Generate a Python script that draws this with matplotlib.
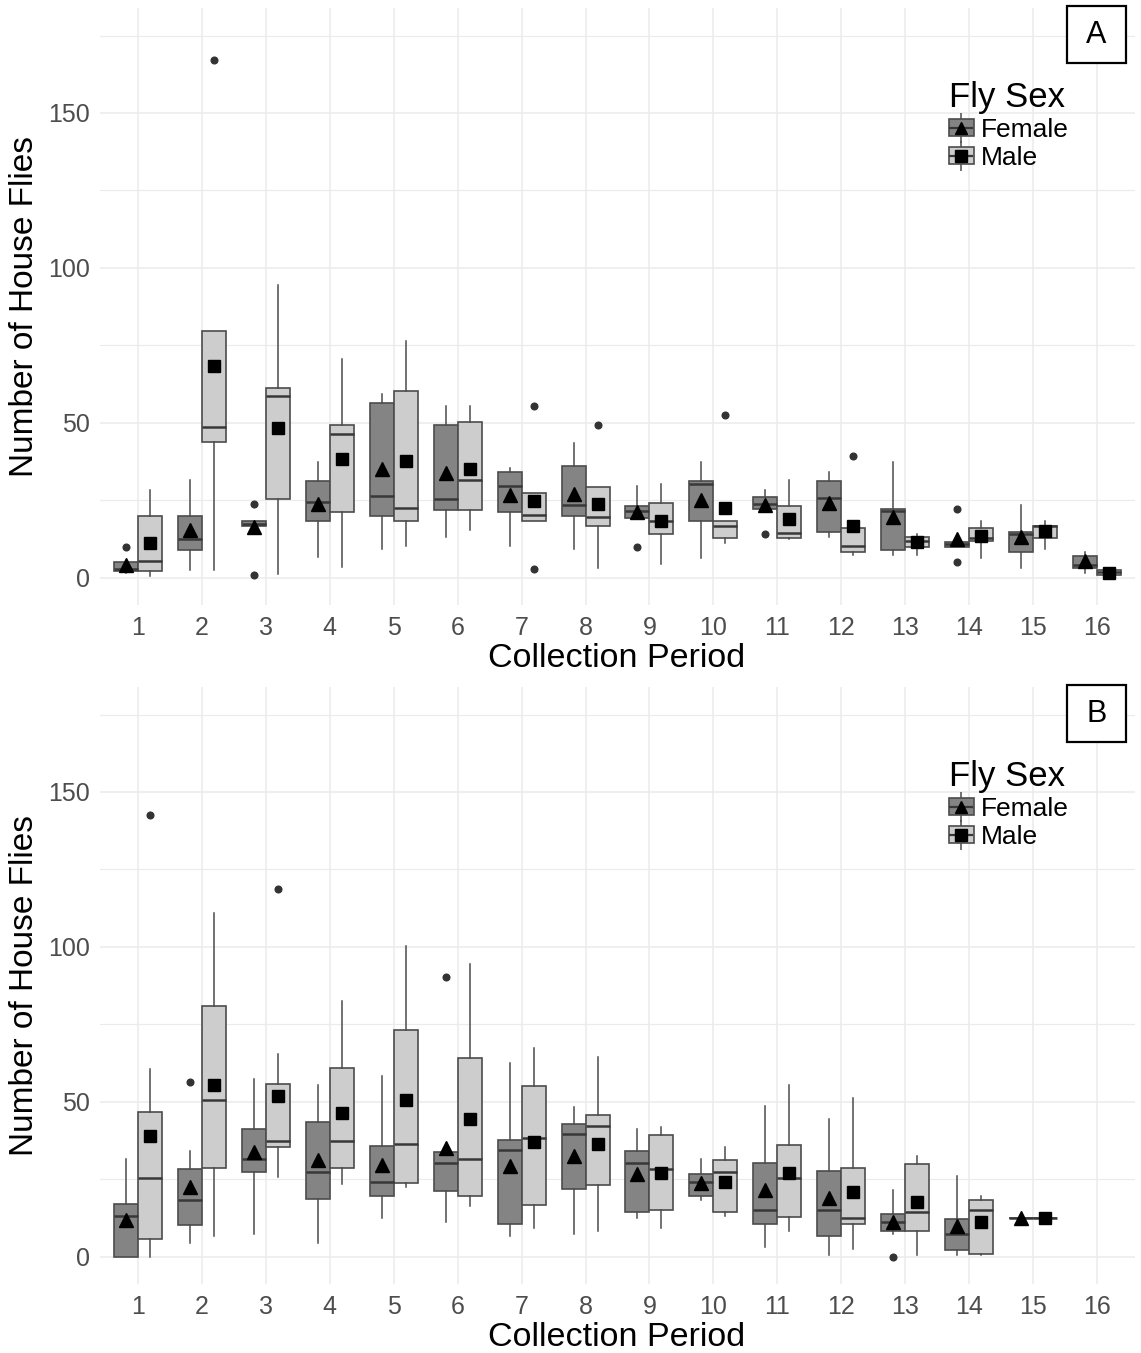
import matplotlib
matplotlib.use('Agg')
import matplotlib.pyplot as plt
import matplotlib.patches as mpatches
from matplotlib.lines import Line2D
import numpy as np

plt.rcParams['font.family'] = ['Liberation Sans', 'DejaVu Sans']

periods = list(range(1, 17))

# ---- Panel A (whislo, q1, med, q3, whishi, mean) ----
a_fem_lo   = [1.5, 2.6, 16.8, 6.6, 9.3, 13.3, 10.4, 9.3, 19.2, 6.3, 22.2, 13.3, 7.4, 10.1, 3.1, 1.5]
a_fem_q1   = [2.3, 9.0, 16.8, 18.2, 20.1, 22.0, 21.4, 20.1, 19.2, 18.2, 22.2, 14.9, 9.0, 10.1, 8.2, 3.1]
a_fem_med  = [3.0, 12.5, 17.5, 24.4, 26.5, 25.5, 29.6, 23.5, 21.7, 30.3, 23.7, 25.7, 21.6, 10.8, 14.2, 4.0]
a_fem_q3   = [5.1, 20.1, 18.2, 31.4, 56.5, 49.2, 34.1, 36.1, 23.3, 31.4, 26.2, 31.4, 22.3, 11.5, 14.9, 7.1]
a_fem_hi   = [5.1, 31.6, 18.2, 37.4, 59.2, 55.3, 35.4, 43.4, 29.5, 37.5, 28.4, 34.3, 37.5, 11.5, 23.5, 8.2]
a_fem_mean = [4.2, 15.5, 16.4, 23.9, 35.2, 33.8, 26.8, 27.0, 21.2, 25.2, 23.5, 24.1, 19.8, 12.6, 13.1, 5.3]
a_fem_out  = [[10], [], [24, 1], [], [], [], [], [], [10.1], [], [14.2], [], [], [22.2, 5.0], [], []]

a_mal_lo   = [0.6, 2.6, 1.3, 3.4, 10.4, 15.3, 18.2, 3.3, 4.4, 11.2, 12.5, 7.4, 7.4, 6.3, 9.3, 1.0]
a_mal_q1   = [2.3, 44.0, 25.4, 21.4, 18.2, 22.0, 18.2, 16.9, 14.2, 13.0, 13.0, 8.2, 10.1, 12.0, 13.0, 1.0]
a_mal_med  = [5.3, 48.8, 58.7, 46.3, 22.4, 31.5, 20.3, 19.7, 18.5, 16.6, 14.4, 10.4, 11.9, 12.8, 16.6, 1.8]
a_mal_q3   = [20.1, 79.7, 61.4, 49.4, 60.4, 50.4, 27.4, 29.3, 24.2, 18.2, 23.3, 16.2, 13.3, 16.2, 16.9, 2.6]
a_mal_hi   = [28.4, 79.7, 94.5, 70.5, 76.5, 55.3, 27.4, 29.3, 30.2, 18.2, 31.6, 16.2, 14.2, 18.2, 18.2, 2.6]
a_mal_mean = [11.4, 68.4, 48.3, 38.4, 37.7, 35.2, 24.9, 23.8, 18.5, 22.5, 19.0, 16.6, 11.7, 13.5, 15.0, 1.7]
a_mal_out  = [[], [167], [], [], [], [], [55.3, 3.0], [49.2], [], [52.6], [], [39.4], [], [], [], []]

# ---- Panel B (period 16 has no data) ----
b_fem_lo   = [0, 4.6, 7.4, 4.4, 12.6, 11.4, 6.6, 7.3, 12.5, 18.4, 3.3, 0.6, 7.4, 0.6, 12.4, None]
b_fem_q1   = [0, 10.2, 27.3, 18.6, 19.8, 21.4, 10.6, 21.9, 14.6, 19.8, 10.5, 6.6, 8.5, 2.3, 12.4, None]
b_fem_med  = [13.2, 18.4, 31.6, 27.5, 24.3, 30.4, 34.5, 39.6, 30.4, 24.3, 15.2, 15.2, 11.4, 7.3, 12.4, None]
b_fem_q3   = [17.0, 28.2, 41.3, 43.6, 35.8, 33.7, 37.7, 42.9, 34.2, 26.6, 30.2, 27.7, 13.9, 12.3, 12.4, None]
b_fem_hi   = [31.5, 34.3, 57.3, 55.4, 58.5, 33.7, 62.5, 48.5, 41.4, 31.5, 48.7, 44.4, 21.6, 26.2, 12.4, None]
b_fem_mean = [11.9, 22.7, 33.7, 31.1, 29.7, 35.0, 29.2, 32.6, 26.6, 24.0, 21.6, 18.9, 11.4, 10.1, 12.4, None]
b_fem_out  = [[], [56.3], [], [], [], [90.4], [], [], [], [], [], [], [0], [], [], []]

b_mal_lo   = [0, 6.6, 25.7, 23.5, 22.7, 16.5, 9.2, 8.5, 9.2, 13.2, 8.5, 2.5, 0.6, 0.6, 12.4, None]
b_mal_q1   = [5.8, 28.6, 35.3, 28.6, 23.8, 19.8, 16.6, 23.3, 15.0, 14.5, 13.0, 10.6, 8.2, 1.0, 12.4, None]
b_mal_med  = [25.6, 50.6, 37.5, 37.5, 36.3, 31.6, 38.5, 42.3, 28.4, 27.5, 25.6, 12.4, 14.4, 15.2, 12.4, None]
b_mal_q3   = [46.9, 80.8, 55.7, 60.9, 73.2, 64.1, 55.0, 45.7, 39.2, 31.4, 36.1, 28.6, 29.9, 18.2, 12.4, None]
b_mal_hi   = [60.5, 110.9, 65.4, 82.6, 100.4, 94.5, 67.3, 64.6, 42.0, 35.5, 55.4, 51.4, 32.4, 19.5, 12.4, None]
b_mal_mean = [39.0, 55.5, 52.0, 46.3, 50.6, 44.4, 37.0, 36.3, 27.0, 24.1, 27.0, 20.8, 17.6, 11.1, 12.4, None]
b_mal_out  = [[142.6], [], [118.7], [], [], [], [], [], [], [], [], [], [], [], [], []]

FEM_COL = '#848484'
MAL_COL = '#cdcdcd'
EDGE = '#4c4c4c'
GRID = '#ebebeb'
W, H = 1141, 1353


def make_stats(lo, q1, med, q3, hi, mean, out):
    stats, pos = [], []
    for i, p in enumerate(periods):
        if med[i] is None:
            continue
        stats.append(dict(whislo=lo[i], q1=q1[i], med=med[i], q3=q3[i],
                          whishi=hi[i], mean=mean[i], fliers=out[i]))
        pos.append(p)
    return stats, pos


def draw_group(ax, stats, pos, offset, fill, marker, msize):
    ax.bxp(stats, positions=[p + offset for p in pos], widths=0.375,
           showmeans=True, patch_artist=True, manage_ticks=False,
           boxprops=dict(facecolor=fill, edgecolor=EDGE, linewidth=1.2),
           medianprops=dict(color='#383838', linewidth=1.8),
           whiskerprops=dict(color=EDGE, linewidth=1.1),
           capprops=dict(linewidth=0),
           flierprops=dict(marker='o', markersize=4.8, markerfacecolor='#333333',
                           markeredgecolor='#333333'),
           meanprops=dict(marker=marker, markersize=msize, markerfacecolor='black',
                          markeredgecolor='black'),
           zorder=3)


def panel(top_px, fem, mal, letter):
    bottom_px = top_px + 596.6
    ax = fig.add_axes([99.6 / W, 1 - bottom_px / H, 1035.8 / W, 596.6 / H])
    ax.set_xlim(0.4, 16.6)
    ax.set_ylim(-8.75, 183.75)
    for s in ax.spines.values():
        s.set_visible(False)
    ax.set_xticks(periods)
    ax.set_xticklabels([str(p) for p in periods])
    ax.set_yticks([0, 50, 100, 150])
    ax.set_yticks([25, 75, 125, 175], minor=True)
    ax.tick_params(axis='both', which='both', length=0, labelsize=18, labelcolor='#4d4d4d')
    ax.tick_params(axis='x', pad=8)
    ax.tick_params(axis='y', pad=7)
    ax.grid(True, which='major', color=GRID, linewidth=1.1)
    ax.grid(True, which='minor', axis='y', color=GRID, linewidth=0.8)
    ax.set_axisbelow(True)

    fs, fp = make_stats(*fem)
    ms_, mp = make_stats(*mal)
    draw_group(ax, fs, fp, -0.1875, FEM_COL, '^', 10.5)
    draw_group(ax, ms_, mp, 0.1875, MAL_COL, 's', 9.2)

    # legend
    h_f = (Line2D([], [], ls='none', marker='|', ms=21, color=EDGE, mew=1.1),
           mpatches.Patch(facecolor=FEM_COL, edgecolor=EDGE, linewidth=1.2),
           Line2D([], [], ls='none', marker='_', ms=17, color='#383838', mew=1.6),
           Line2D([], [], ls='none', marker='^', ms=9, color='black'))
    h_m = (Line2D([], [], ls='none', marker='|', ms=21, color=EDGE, mew=1.1),
           mpatches.Patch(facecolor=MAL_COL, edgecolor=EDGE, linewidth=1.2),
           Line2D([], [], ls='none', marker='_', ms=17, color='#383838', mew=1.6),
           Line2D([], [], ls='none', marker='s', ms=8, color='black'))
    leg = ax.legend([h_f, h_m], ['Female', 'Male'], title='Fly Sex',
                    loc='upper left', bbox_to_anchor=(933 / W, 1 - (top_px + 57) / H),
                    bbox_transform=fig.transFigure, frameon=False, fontsize=19,
                    title_fontsize=25, handlelength=0.95, handleheight=0.65,
                    handletextpad=0.25, labelspacing=0.14, borderpad=0.1)
    leg._legend_box.align = 'left'

    # y and x titles
    fig.text(25 / W, 1 - (top_px + 298) / H, 'Number of House Flies', rotation=90,
             ha='center', va='center', fontsize=24)
    fig.text(617 / W, 1 - (top_px + 650) / H, 'Collection Period',
             ha='center', va='center', fontsize=24.5)

    # panel letter box
    fig.patches.append(mpatches.Rectangle((1067 / W, 1 - (top_px + 55) / H), 59 / W, 57 / H,
                                          transform=fig.transFigure, facecolor='white',
                                          edgecolor='black', linewidth=1.6, zorder=5))
    fig.text(1096.5 / W, 1 - (top_px + 27) / H, letter, ha='center', va='center',
             fontsize=22, zorder=6)
    return ax


fig = plt.figure(figsize=(W / 100, H / 100), dpi=100)
fig.patch.set_facecolor('white')

panel(8.4, (a_fem_lo, a_fem_q1, a_fem_med, a_fem_q3, a_fem_hi, a_fem_mean, a_fem_out),
      (a_mal_lo, a_mal_q1, a_mal_med, a_mal_q3, a_mal_hi, a_mal_mean, a_mal_out), 'A')
panel(687.4, (b_fem_lo, b_fem_q1, b_fem_med, b_fem_q3, b_fem_hi, b_fem_mean, b_fem_out),
      (b_mal_lo, b_mal_q1, b_mal_med, b_mal_q3, b_mal_hi, b_mal_mean, b_mal_out), 'B')

fig.savefig('out.png', dpi=100, facecolor='white')
